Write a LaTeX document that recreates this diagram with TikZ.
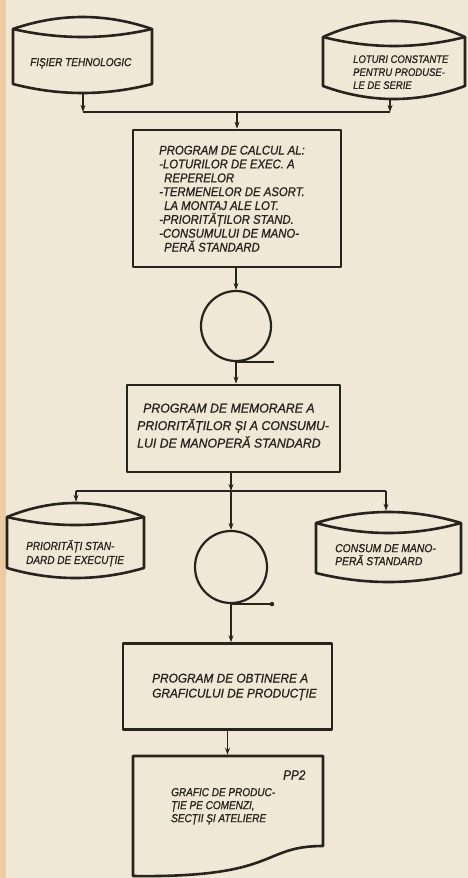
\documentclass[tikz,border=0pt]{standalone}
\usepackage{fontspec}
\setmainfont{Liberation Sans}
\newfontfamily\hand{Liberation Sans Italic}[FakeStretch=0.87,FakeBold=1]
\newfontfamily\handnine{Liberation Sans Italic}[FakeStretch=0.9,FakeBold=1]
\newfontfamily\handwide{Liberation Sans Italic}[FakeStretch=0.96,FakeBold=1]
\newfontfamily\handmid{Liberation Sans Italic}[FakeStretch=0.94,FakeBold=1]
\usetikzlibrary{arrows.meta}
\definecolor{paper}{HTML}{F0E8D6}
\definecolor{pageedge}{HTML}{E9CDA8}
\definecolor{ink}{HTML}{27231F}
\tikzset{
  shapeline/.style={draw=ink, line width=2.6pt, line join=round},
  conn/.style={draw=ink, line width=1.2pt},
  arr/.style={conn, -{Stealth[length=7pt,width=5pt]}},
  procbox/.style={shapeline, rectangle, inner sep=0pt},
  tape/.style={shapeline, circle, line width=2.2pt, inner sep=0pt},
  txt/.style={text=ink, font=\hand\fontsize{12.6}{13.86}\selectfont, inner sep=0pt, align=left},
}
% cylinder: L R C(corner y) T(top peak) I(inner arc low) S(side bottom) B(bottom peak)
\newcommand{\cylshape}[7]{%
  \draw[shapeline] (#1,#3) .. controls ({#1+(#2-#1)/3},{#3+4*(#4-#3)/3}) and ({#2-(#2-#1)/3},{#3+4*(#4-#3)/3}) .. (#2,#3)
      -- (#2,#6) .. controls ({#2-(#2-#1)/3},{#6+4*(#7-#6)/3}) and ({#1+(#2-#1)/3},{#6+4*(#7-#6)/3}) .. (#1,#6) -- cycle;
  \draw[shapeline] (#1,#3) .. controls ({#1+(#2-#1)/3},{#3+4*(#5-#3)/3}) and ({#2-(#2-#1)/3},{#3+4*(#5-#3)/3}) .. (#2,#3);
}
\begin{document}
\begin{tikzpicture}[x=1pt,y=-1pt]
\fill[paper] (0,0) rectangle (468,878);
\fill[pageedge] (0,0) rectangle (6,878);
\useasboundingbox (0,0) rectangle (468,878);

% ---- top cylinders
\cylshape{13}{152}{29}{17}{37}{84}{93}
\node[txt, font=\hand\fontsize{11.5}{13.5}\selectfont, anchor=base west] (fisier) at (30,66.1) {FIȘIER TEHNOLOGIC};
\coordinate (cylA) at (83,94.3);

\cylshape{323}{465}{37}{21}{46}{86}{99}
\node[txt, font=\hand\fontsize{10.9}{13}\selectfont, anchor=north west] (loturi) at (353,55.1)
  {LOTURI CONSTANTE\\PENTRU PRODUSE-\\LE DE SERIE};
\coordinate (cylB) at (390,100.3);

\coordinate (jA) at (83,112);
\coordinate (jB) at (390,112);

% ---- box 1
\node[procbox, minimum width=208, minimum height=137] (box1) at (237,198.5) {};
\node[txt, font=\handnine\fontsize{12.6}{13.86}\selectfont, anchor=north west] (box1txt) at (159,145.5)
  {PROGRAM DE CALCUL AL:\\
   -LOTURILOR DE EXEC. A\\
   \hspace*{5pt}REPERELOR\\
   -TERMENELOR DE ASORT.\\
   \hspace*{5pt}LA MONTAJ ALE LOT.\\
   -PRIORITĂȚILOR STAND.\\
   -CONSUMULUI DE MANO-\\
   \hspace*{5pt}PERĂ STANDARD};

% ---- tape 1
\node[tape, minimum size=70] (t1) at (236,326) {};
\coordinate (t1tail) at ([xshift=38pt]t1.south);

% ---- box 2
\node[procbox, minimum width=213, minimum height=87] (box2) at (233.5,428.5) {};
\node[txt, font=\handwide\fontsize{12.8}{17.5}\selectfont, anchor=north west] (box2txt) at (137,403.4)
  {\hspace*{6pt}PROGRAM DE MEMORARE A\\
   PRIORITĂȚILOR ȘI A CONSUMU-\\
   LUI DE MANOPERĂ STANDARD};

% ---- junction and lower cylinders
\coordinate (jD) at (231,491);
\coordinate (jL) at (76,491);
\coordinate (jR) at (386,491);

\cylshape{7}{144}{517}{503}{525}{568}{578}
\node[txt, font=\hand\fontsize{11.5}{14}\selectfont, anchor=north west] (prior) at (26,539.8)
  {PRIORITĂȚI STAN-\\DARD DE EXECUȚIE};
\coordinate (cylC) at (76,501.7);

\cylshape{316}{461}{523}{512}{533}{573}{582}
\node[txt, font=\handnine\fontsize{11.5}{13}\selectfont, anchor=north west] (consum) at (335,543.9)
  {CONSUM DE MANO-\\PERĂ STANDARD};
\coordinate (cylD) at (386,510.7);

% ---- tape 2
\node[tape, minimum size=72] (t2) at (231,567) {};
\coordinate (t2tail) at ([xshift=41pt]t2.south);

% ---- box 3
\node[procbox, minimum width=209, minimum height=86] (box3) at (227.5,686.5) {};
\node[txt, font=\handmid\fontsize{12.6}{15}\selectfont, anchor=north west] (box3txt) at (152,673.5)
  {PROGRAM DE OBTINERE A\\GRAFICULUI DE PRODUCȚIE};

% ---- document
\draw[shapeline] (133,756) -- (323,756) -- (323,846)
   .. controls (260,846) and (280,878) .. (133,876) -- cycle;
\coordinate (docTop) at (227.5,754.7);
\node[txt, font=\hand\fontsize{13.5}{14}\selectfont, anchor=west] (pp2) at (283,775) {PP2};
\node[txt, font=\hand\fontsize{11.5}{13}\selectfont, anchor=north west] (doctxt) at (171,787.9)
  {GRAFIC DE PRODUC-\\ȚIE PE COMENZI,\\SECȚII ȘI ATELIERE};

% ---- connectors
\draw[arr] (cylA) -- (jA);
\draw[arr] (cylB) -- (jB);
\draw[conn] (jA) -- (jB);
\draw[arr] (box1.north |- jA) -- (box1.north);
\draw[arr] (t1.north |- box1.south) -- (t1.north);
\draw[conn, line width=1.4pt] (t1.south) -- (t1tail);
\draw[arr] (t1.south) -- (t1.south |- box2.north);
\draw[arr] (jD |- box2.south) -- (jD);
\draw[conn] (jL) -- (jR);
\draw[arr] (jL) -- (cylC);
\draw[arr] (jR) -- (cylD);
\draw[arr] (jD) -- (t2.north);
\draw[conn, line width=1.4pt] (t2.south) -- (t2tail);
\fill[ink] (t2tail) circle (2.2);
\draw[arr] (t2.south) -- (t2.south |- box3.north);
\draw[arr] (box3.south) -- (box3.south |- docTop);
\end{tikzpicture}
\end{document}
